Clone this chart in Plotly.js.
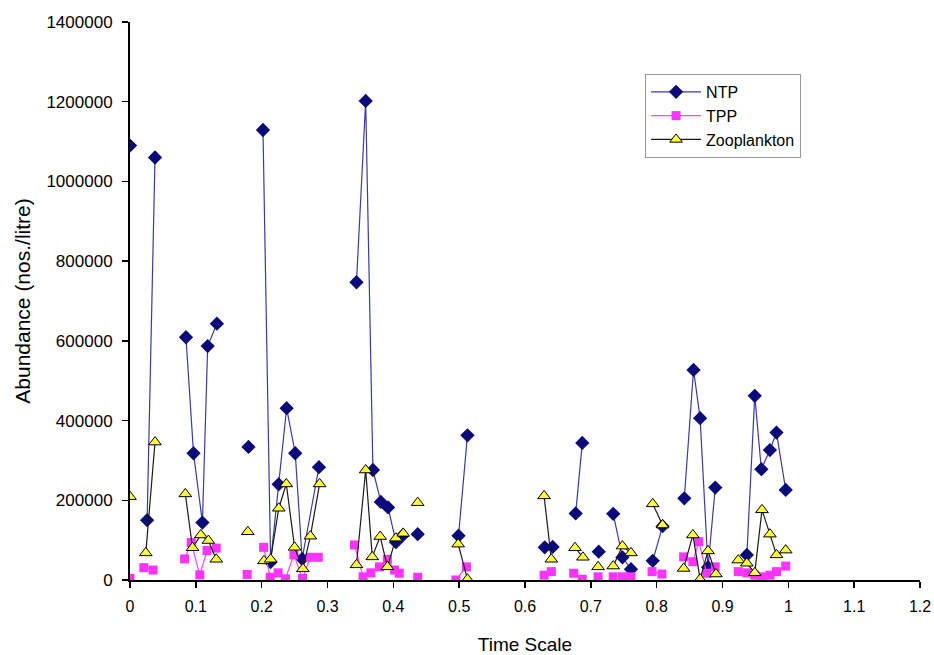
<!DOCTYPE html>
<html>
<head>
<meta charset="utf-8">
<script src="https://cdn.plot.ly/plotly-3.0.1.min.js"></script>
<style>html,body{margin:0;padding:0;background:#fff;}#chart{width:934px;height:655px;}</style>
</head>
<body>
<div id="chart"></div>
<script>
// NTP (null = break in line)
const ntpX = [0, null, 0.026, 0.038, null, 0.085, 0.0965, 0.11, 0.118, 0.132, null, 0.18, null,
  0.202, 0.2136, 0.2258, 0.2379, 0.251, 0.2615, 0.287, null,
  0.344, 0.358, 0.369, 0.381, 0.392, 0.404, 0.413, null, 0.437, null,
  0.499, 0.5126, null, 0.630, 0.642, null, 0.677, 0.687, null, 0.712, null,
  0.734, 0.748, 0.761, null, 0.794, 0.809, null,
  0.842, 0.856, 0.866, 0.878, 0.889, null,
  0.937, 0.949, 0.959, 0.972, 0.982, 0.996];
const ntpY = [1090000, null, 150000, 1060000, null, 609000, 318000, 144000, 587000, 643000, null, 334000, null,
  1129000, 45000, 240000, 431000, 318000, 53000, 283000, null,
  747000, 1202000, 276000, 196000, 182000, 95000, 110000, null, 115000, null,
  111000, 363000, null, 82000, 83000, null, 167000, 344000, null, 71000, null,
  166000, 57000, 27000, null, 48000, 135000, null,
  205000, 527000, 406000, 32000, 232000, null,
  63000, 462000, 278000, 326000, 370000, 226000];

// TPP
const tppX = [0, null, 0.021, 0.035, null, 0.083, 0.093, 0.106, 0.117, 0.131, null, 0.178, null,
  0.203, 0.213, 0.225, 0.236, 0.249, 0.262, 0.274, 0.286, null,
  0.341, 0.354, 0.366, 0.379, 0.391, 0.402, 0.409, null, 0.437, null,
  0.495, 0.511, null, 0.629, 0.640, null, 0.674, 0.687, null, 0.711, null,
  0.734, 0.748, 0.761, null, 0.793, 0.808, null,
  0.841, 0.855, 0.864, 0.876, 0.889, null,
  0.924, 0.937, 0.949, 0.960, 0.972, 0.982, 0.996];
const tppY = [4000, null, 31000, 25000, null, 53000, 94000, 13000, 74000, 80000, null, 14000, null,
  82000, 7000, 18000, 3000, 63000, 4000, 57000, 57000, null,
  88000, 8000, 18000, 33000, 52000, 25000, 17000, null, 7000, null,
  0, 33000, null, 12000, 21000, null, 17000, 2000, null, 8000, null,
  8000, 8000, 8000, null, 21000, 15000, null,
  58000, 46000, 96000, 17000, 33000, null,
  21000, 18000, 12000, 8000, 12000, 21000, 35000];

// Zooplankton
const zooX = [0, null, 0.024, 0.038, null, 0.084, 0.095, 0.1076, 0.119, 0.131, null, 0.179, null,
  0.2035, 0.2136, 0.226, 0.2374, 0.25, 0.2626, 0.274, 0.288, null,
  0.344, 0.358, 0.368, 0.38, 0.391, 0.404, 0.415, null, 0.437, null,
  0.4985, 0.5126, null, 0.629, 0.640, null, 0.676, 0.688, null, 0.711, null,
  0.734, 0.748, 0.761, null, 0.794, 0.809, null,
  0.841, 0.855, 0.866, 0.878, 0.890, null,
  0.924, 0.937, 0.949, 0.960, 0.972, 0.982, 0.996];
const zooY = [209000, null, 68000, 346000, null, 216000, 81000, 113000, 99000, 52000, null, 121000, null,
  48000, 52000, 180000, 241000, 82000, 28000, 110000, 241000, null,
  38000, 276000, 58000, 109000, 33000, 105000, 117000, null, 194000, null,
  90000, 2000, null, 211000, 52000, null, 81000, 57000, null, 33000, null,
  35000, 85000, 68000, null, 191000, 138000, null,
  29000, 113000, 2000, 73000, 15000, null,
  50000, 42000, 18000, 176000, 115000, 63000, 75000];

const xTicks = [0, 0.1, 0.2, 0.3, 0.4, 0.5, 0.6, 0.7, 0.8, 0.9, 1, 1.1, 1.2];
const yTicks = [0, 200000, 400000, 600000, 800000, 1000000, 1200000, 1400000];

const font = "Liberation Sans, Arial, sans-serif";

const traces = [
  {x: ntpX, y: ntpY, name: 'NTP', mode: 'lines+markers', connectgaps: false,
   line: {color: '#3a3aa8', width: 1.2},
   marker: {symbol: 'diamond', size: 11, color: '#0a0a7a', line: {width: 0}}},
  {x: tppX, y: tppY, name: 'TPP', mode: 'lines+markers', connectgaps: false,
   line: {color: '#ff44ff', width: 1.2},
   marker: {symbol: 'square', size: 9, color: '#ff33ff', line: {width: 0}}},
  {x: zooX, y: zooY, name: 'Zooplankton', mode: 'lines+markers', connectgaps: false,
   line: {color: '#1a1a1a', width: 1.2},
   marker: {symbol: 'triangle-up', size: 11, color: '#ffff33', line: {color: '#000', width: 1}}}
];

const layout = {
  width: 934, height: 655,
  margin: {l: 130, r: 14, t: 22, b: 75},
  paper_bgcolor: '#fff', plot_bgcolor: '#fff',
  font: {family: font, size: 15, color: '#000'},
  showlegend: true,
  legend: {x: 0.652, y: 0.907, xanchor: 'left', yanchor: 'top',
    bordercolor: '#999', borderwidth: 1, bgcolor: '#fff',
    font: {family: font, size: 16, color: '#000'}, tracegroupgap: 0, itemwidth: 50},
  xaxis: {range: [0, 1.2], tickvals: xTicks, ticktext: xTicks.map(String),
    showgrid: false, zeroline: false, showline: true, linecolor: '#000', linewidth: 2,
    ticks: 'outside', ticklen: 6, tickwidth: 1.5, tickcolor: '#000', ticklabelstandoff: 5,
    tickfont: {family: font, size: 16},
    title: {text: 'Time Scale', font: {family: font, size: 19}, standoff: 24}},
  yaxis: {range: [0, 1400000], tickvals: yTicks, ticktext: yTicks.map(String),
    showgrid: false, zeroline: false, showline: true, linecolor: '#000', linewidth: 2,
    ticks: 'outside', ticklen: 6, tickwidth: 1.5, tickcolor: '#000', ticklabelstandoff: 6,
    tickfont: {family: font, size: 17},
    title: {text: 'Abundance (nos./litre)', font: {family: font, size: 21}, standoff: 10}}
};

Plotly.newPlot('chart', traces, layout, {displayModeBar: false, staticPlot: true});
</script>
</body>
</html>
